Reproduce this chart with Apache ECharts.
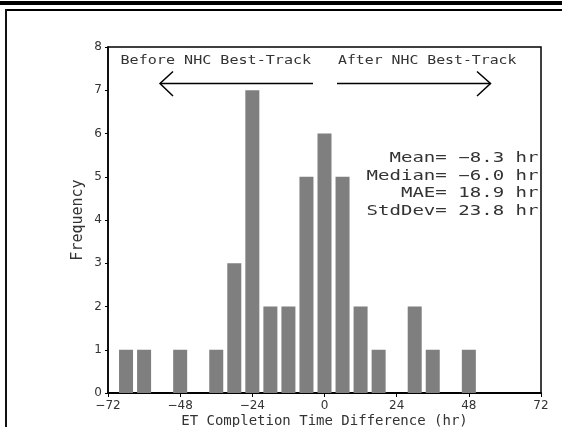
<!DOCTYPE html>
<html>
<head>
<meta charset="utf-8">
<script src="https://cdn.jsdelivr.net/npm/echarts@6/dist/echarts.min.js"></script>
<style>
  html, body { margin: 0; padding: 0; background: #fff; }
  #chart { width: 562px; height: 427px; }
</style>
</head>
<body>
<div id="chart"></div>
<script>
// histogram bins (6 hr wide), centre of each bin
const binCenters = [-66, -60, -54, -48, -42, -36, -30, -24, -18, -12, -6, 0, 6, 12, 18, 24, 30, 36, 42, 48]
const counts = [1, 1, 0, 1, 0, 1, 3, 7, 2, 2, 5, 6, 5, 2, 1, 0, 2, 1, 0, 1]
const statLines = ['Mean= −8.3 hr', 'Median= −6.0 hr', 'MAE= 18.9 hr', 'StdDev= 23.8 hr']
const beforeLabel = 'Before NHC Best-Track'
const afterLabel = 'After NHC Best-Track'

const monoFont = '"DejaVu Sans Mono", monospace'
const axisFont = '"DejaVu Sans", sans-serif'

const chart = echarts.init(document.getElementById('chart'))

const barData = binCenters.map((c, i) => [c, counts[i]]).filter(d => d[1] > 0)

// GrADS-like stretched text
const stretched = (text, x, y, align, size, sx) => ({
  type: 'text',
  x: x,
  y: y,
  scaleX: sx,
  style: {
    text: text,
    font: size + 'px ' + monoFont,
    fill: '#333',
    textAlign: align,
    textVerticalAlign: 'middle'
  },
  z: 10
})

const lineStyle = { stroke: '#000', lineWidth: 1.5 }

const graphics = [
  // page frame
  { type: 'rect', shape: { x: 0, y: 1, width: 562, height: 4 }, style: { fill: '#000' } },
  { type: 'rect', shape: { x: 5, y: 9, width: 557, height: 2 }, style: { fill: '#000' } },
  { type: 'rect', shape: { x: 5, y: 9, width: 2, height: 418 }, style: { fill: '#111' } },
  // arrows
  { type: 'line', shape: { x1: 160, y1: 83.5, x2: 313, y2: 83.5 }, style: lineStyle, z: 10 },
  { type: 'polyline', shape: { points: [[173, 71.5], [160, 83.5], [173, 96]] }, style: lineStyle, z: 10 },
  { type: 'line', shape: { x1: 337, y1: 83.5, x2: 490.5, y2: 83.5 }, style: lineStyle, z: 10 },
  { type: 'polyline', shape: { points: [[477, 71.5], [490.5, 83.5], [477, 96]] }, style: lineStyle, z: 10 },
  stretched(beforeLabel, 120.5, 61, 'left', 13, 1.16),
  stretched(afterLabel, 338, 61, 'left', 13, 1.14)
]
statLines.forEach((s, i) => {
  graphics.push(stretched(s, 538.5, 158 + i * 17.9, 'right', 14, 1.36))
})

const option = {
  animation: false,
  grid: {
    left: 108,
    right: 21,
    top: 47,
    bottom: 34,
    outerBoundsMode: 'none',
    containLabel: false,
    show: true,
    borderColor: '#000',
    borderWidth: 1.5
  },
  xAxis: {
    type: 'value',
    min: -72,
    max: 72,
    interval: 24,
    name: 'ET Completion Time Difference (hr)',
    nameLocation: 'middle',
    nameGap: 21,
    nameMoveOverlap: false,
    nameTextStyle: { fontFamily: monoFont, fontSize: 14, color: '#333', verticalAlign: 'top' },
    splitLine: { show: false },
    axisLine: { onZero: false, lineStyle: { color: '#000', width: 2 } },
    axisTick: { length: 4, lineStyle: { color: '#000' } },
    axisLabel: {
      fontFamily: axisFont,
      fontSize: 12,
      color: '#333',
      margin: 7,
      formatter: v => (v < 0 ? '−' + Math.abs(v) : String(v))
    }
  },
  yAxis: {
    type: 'value',
    min: 0,
    max: 8,
    interval: 1,
    name: 'Frequency',
    nameLocation: 'middle',
    nameGap: 22,
    nameMoveOverlap: false,
    nameTextStyle: { fontFamily: monoFont, fontSize: 15, color: '#333' },
    splitLine: { show: false },
    axisLine: { show: true, onZero: false, lineStyle: { color: '#000', width: 1.5 } },
    axisTick: { show: true, length: 3, lineStyle: { color: '#000' } },
    axisLabel: { fontFamily: axisFont, fontSize: 12, color: '#333', margin: 6 }
  },
  series: [
    {
      type: 'bar',
      data: barData,
      barWidth: 14,
      itemStyle: { color: '#7f7f7f' }
    }
  ],
  graphic: graphics
}

chart.setOption(option)
</script>
</body>
</html>
